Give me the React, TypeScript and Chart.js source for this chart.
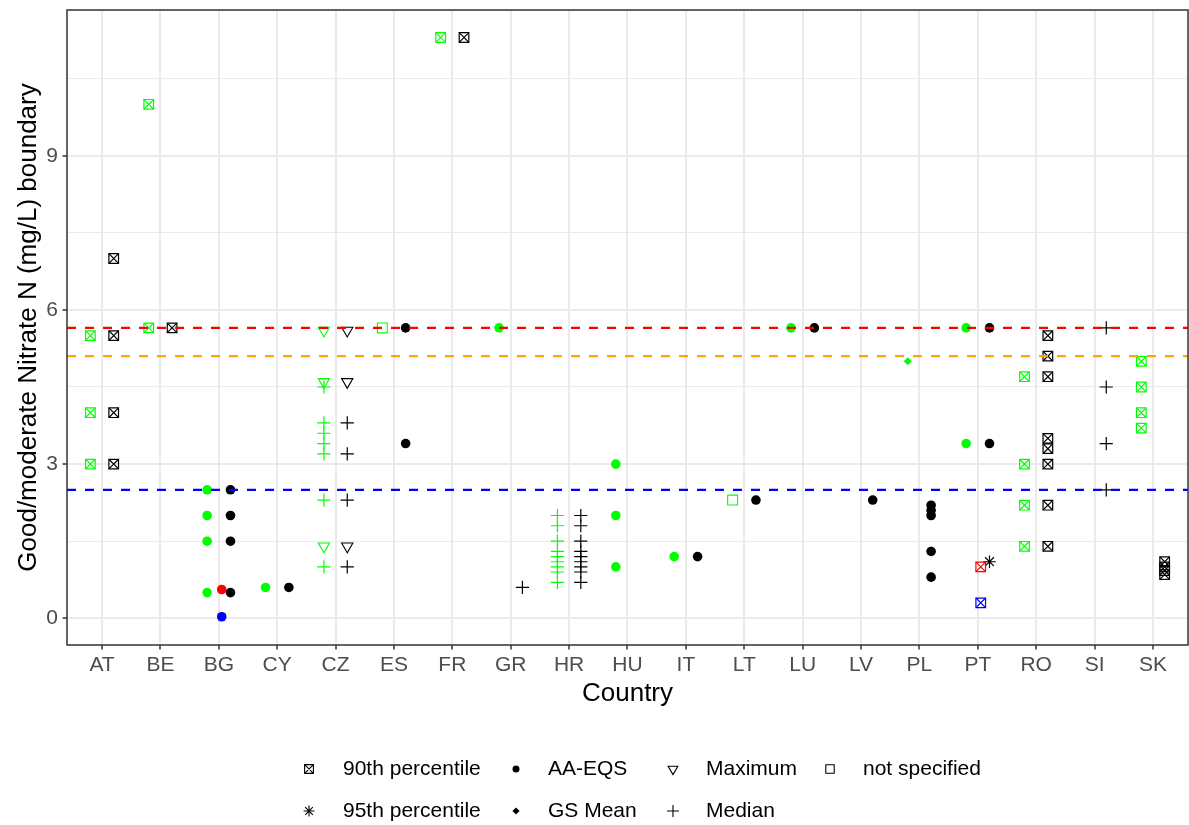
import { useEffect, useRef } from 'react';
import { Chart, registerables } from 'chart.js';

Chart.register(...registerables);

type Row = [string, number];

const COUNTRIES = ['AT', 'BE', 'BG', 'CY', 'CZ', 'ES', 'FR', 'GR', 'HR', 'HU', 'IT', 'LT', 'LU', 'LV', 'PL', 'PT', 'RO', 'SI', 'SK'];

const Y_TICKS = [0, 1.5, 3, 4.5, 6, 7.5, 9, 10.5];
const Y_MIN = -0.52;
const Y_MAX = 11.835;

// Reference boundaries drawn as dashed horizontal lines
const REF_VALUES = [5.65, 5.1, 2.5];
const REF_COLORS = ['#FF0000', '#FFA500', '#0000FF'];

// 90th percentile
const P90_GREEN: Row[] = [['AT', 5.5], ['AT', 4], ['AT', 3], ['BE', 10], ['BE', 5.65], ['FR', 11.3], ['RO', 4.7], ['RO', 3], ['RO', 2.2], ['RO', 1.4], ['SK', 5], ['SK', 4.5], ['SK', 4], ['SK', 3.7]];
const P90_BLACK: Row[] = [['AT', 7], ['AT', 5.5], ['AT', 4], ['AT', 3], ['BE', 5.65], ['FR', 11.3], ['RO', 5.5], ['RO', 5.1], ['RO', 4.7], ['RO', 3.5], ['RO', 3.3], ['RO', 3], ['RO', 2.2], ['RO', 1.4], ['SK', 1.1], ['SK', 1.0], ['SK', 0.93], ['SK', 0.85]];
const P90_RED: Row[] = [['PT', 1.0]];
const P90_BLUE: Row[] = [['PT', 0.3]];
// AA-EQS
const AAEQS_GREEN: Row[] = [['BG', 2.5], ['BG', 2], ['BG', 1.5], ['BG', 0.5], ['CY', 0.6], ['GR', 5.65], ['HU', 3], ['HU', 2], ['HU', 1], ['IT', 1.2], ['LU', 5.65], ['PT', 5.65], ['PT', 3.4]];
const AAEQS_BLACK: Row[] = [['BG', 2.5], ['BG', 2], ['BG', 1.5], ['BG', 0.5], ['CY', 0.6], ['ES', 5.65], ['ES', 3.4], ['IT', 1.2], ['LT', 2.3], ['LU', 5.65], ['LV', 2.3], ['PL', 2.2], ['PL', 2.1], ['PL', 2.0], ['PL', 1.3], ['PL', 0.8], ['PT', 5.65], ['PT', 3.4]];
const AAEQS_RED: Row[] = [['BG', 0.56]];
const AAEQS_BLUE: Row[] = [['BG', 0.03]];
// Maximum
const MAX_GREEN: Row[] = [['CZ', 5.6], ['CZ', 4.6], ['CZ', 1.4]];
const MAX_BLACK: Row[] = [['CZ', 5.6], ['CZ', 4.6], ['CZ', 1.4]];
// not specified
const NS_GREEN: Row[] = [['ES', 5.65], ['LT', 2.3]];
// 95th percentile
const P95_BLACK: Row[] = [['PT', 1.1]];
// GS Mean
const GSMEAN_GREEN: Row[] = [['PL', 5.0]];
// Median
const MEDIAN_GREEN: Row[] = [['CZ', 4.5], ['CZ', 3.8], ['CZ', 3.6], ['CZ', 3.4], ['CZ', 3.2], ['CZ', 2.3], ['CZ', 1.0], ['HR', 2.0], ['HR', 1.8], ['HR', 1.5], ['HR', 1.3], ['HR', 1.2], ['HR', 1.1], ['HR', 1.0], ['HR', 0.9], ['HR', 0.7]];
const MEDIAN_BLACK: Row[] = [['CZ', 3.8], ['CZ', 3.2], ['CZ', 2.3], ['CZ', 1.0], ['GR', 0.6], ['HR', 2.0], ['HR', 1.8], ['HR', 1.5], ['HR', 1.3], ['HR', 1.2], ['HR', 1.1], ['HR', 1.0], ['HR', 0.9], ['HR', 0.7], ['SI', 5.65], ['SI', 4.5], ['SI', 3.4], ['SI', 2.5]];

const LEGEND_ROW1 = ['90th percentile', 'AA-EQS', 'Maximum', 'not specified'];
const LEGEND_ROW2 = ['95th percentile', 'GS Mean', 'Median'];

type Group = 'green' | 'black' | 'red' | 'blue';
const GROUP_COLOR: Record<Group, string> = { green: '#00FF00', black: '#000000', red: '#FF0000', blue: '#0000FF' };
// horizontal dodge of each colour group inside a country slot
const GROUP_SHIFT: Record<Group, number> = { green: -0.2, black: 0.2, red: 0.05, blue: 0.05 };

type Shape = 'p90' | 'aaeqs' | 'max' | 'ns' | 'p95' | 'gs' | 'median';

interface MarkStyle { pointStyle: any; radius: number; width: number; filled: boolean; rotation?: number }

const SHAPE_STYLES: Record<Shape, MarkStyle[]> = {
  p90: [
    { pointStyle: 'rect', radius: 6.8, width: 1.2, filled: false },
    { pointStyle: 'crossRot', radius: 6.8, width: 1.2, filled: false },
  ],
  aaeqs: [{ pointStyle: 'circle', radius: 4.8, width: 0, filled: true }],
  max: [{ pointStyle: 'triangle', radius: 6.5, width: 1.1, filled: false, rotation: 180 }],
  ns: [{ pointStyle: 'rect', radius: 7, width: 1.1, filled: false }],
  p95: [{ pointStyle: 'star', radius: 6.3, width: 1.2, filled: false }],
  gs: [{ pointStyle: 'rectRot', radius: 4, width: 0, filled: true }],
  median: [{ pointStyle: 'cross', radius: 6.6, width: 1.2, filled: false }],
};

const SERIES: { shape: Shape; group: Group; rows: Row[] }[] = [
  { shape: 'p90', group: 'green', rows: P90_GREEN },
  { shape: 'p90', group: 'black', rows: P90_BLACK },
  { shape: 'p90', group: 'red', rows: P90_RED },
  { shape: 'p90', group: 'blue', rows: P90_BLUE },
  { shape: 'aaeqs', group: 'green', rows: AAEQS_GREEN },
  { shape: 'aaeqs', group: 'black', rows: AAEQS_BLACK },
  { shape: 'aaeqs', group: 'red', rows: AAEQS_RED },
  { shape: 'aaeqs', group: 'blue', rows: AAEQS_BLUE },
  { shape: 'max', group: 'green', rows: MAX_GREEN },
  { shape: 'max', group: 'black', rows: MAX_BLACK },
  { shape: 'ns', group: 'green', rows: NS_GREEN },
  { shape: 'p95', group: 'black', rows: P95_BLACK },
  { shape: 'gs', group: 'green', rows: GSMEAN_GREEN },
  { shape: 'median', group: 'green', rows: MEDIAN_GREEN },
  { shape: 'median', group: 'black', rows: MEDIAN_BLACK },
];

const FONT = "'Liberation Sans', Arial, Helvetica, sans-serif";

// plot panel edges in canvas pixels
const PANEL = { left: 67, right: 1188, top: 10, bottom: 645 };

function toPoints(rows: Row[], group: Group) {
  return rows.map(([c, v]) => ({ x: COUNTRIES.indexOf(c) + GROUP_SHIFT[group], y: v }));
}

function buildDatasets() {
  const sets: any[] = [];
  // dashed boundaries go first so they are painted above the points
  REF_VALUES.forEach((v, i) => {
    sets.push({
      type: 'scatter',
      data: [{ x: -0.6, y: v }, { x: COUNTRIES.length - 0.4, y: v }],
      showLine: true,
      borderColor: REF_COLORS[i],
      borderWidth: 2.2,
      borderDash: [9, 9],
      pointRadius: 0,
      pointHoverRadius: 0,
    });
  });
  SERIES.forEach((s) => {
    const color = GROUP_COLOR[s.group];
    SHAPE_STYLES[s.shape].forEach((st) => {
      sets.push({
        type: 'scatter',
        data: toPoints(s.rows, s.group),
        showLine: false,
        pointStyle: st.pointStyle,
        pointRadius: st.radius,
        pointHoverRadius: st.radius,
        pointBorderWidth: st.width,
        pointHoverBorderWidth: st.width,
        pointRotation: st.rotation ?? 0,
        pointBorderColor: color,
        pointBackgroundColor: st.filled ? color : 'rgba(0,0,0,0)',
        borderColor: color,
        backgroundColor: st.filled ? color : 'rgba(0,0,0,0)',
      });
    });
  });
  return sets;
}

function drawLegendSymbol(ctx: CanvasRenderingContext2D, kind: Shape, x: number, y: number) {
  ctx.save();
  ctx.strokeStyle = '#000';
  ctx.fillStyle = '#000';
  ctx.lineWidth = 1.1;
  ctx.beginPath();
  switch (kind) {
    case 'p90': {
      const h = 4.4;
      ctx.rect(x - h, y - h, 2 * h, 2 * h);
      ctx.moveTo(x - h, y - h); ctx.lineTo(x + h, y + h);
      ctx.moveTo(x + h, y - h); ctx.lineTo(x - h, y + h);
      ctx.stroke();
      break;
    }
    case 'aaeqs':
      ctx.arc(x, y, 3.5, 0, Math.PI * 2);
      ctx.fill();
      break;
    case 'max': {
      const r = 5.6;
      ctx.moveTo(x, y + r);
      ctx.lineTo(x - r * 0.866, y - r / 2);
      ctx.lineTo(x + r * 0.866, y - r / 2);
      ctx.closePath();
      ctx.stroke();
      break;
    }
    case 'ns':
      ctx.rect(x - 4.2, y - 4.2, 8.4, 8.4);
      ctx.stroke();
      break;
    case 'p95': {
      const r = 5.4;
      const d = r * Math.SQRT1_2;
      ctx.moveTo(x - r, y); ctx.lineTo(x + r, y);
      ctx.moveTo(x, y - r); ctx.lineTo(x, y + r);
      ctx.moveTo(x - d, y - d); ctx.lineTo(x + d, y + d);
      ctx.moveTo(x + d, y - d); ctx.lineTo(x - d, y + d);
      ctx.stroke();
      break;
    }
    case 'gs': {
      const r = 3.6;
      ctx.moveTo(x, y - r); ctx.lineTo(x + r, y); ctx.lineTo(x, y + r); ctx.lineTo(x - r, y);
      ctx.closePath();
      ctx.fill();
      break;
    }
    case 'median': {
      const r = 6;
      ctx.moveTo(x - r, y); ctx.lineTo(x + r, y);
      ctx.moveTo(x, y - r); ctx.lineTo(x, y + r);
      ctx.stroke();
      break;
    }
  }
  ctx.restore();
}

const panelAndLegend = {
  id: 'panelAndLegend',
  afterDatasetsDraw(chart: any) {
    const { ctx, chartArea: a } = chart;
    ctx.save();
    ctx.strokeStyle = '#333333';
    ctx.lineWidth = 1.5;
    ctx.strokeRect(a.left, a.top, a.right - a.left, a.bottom - a.top);
    ctx.restore();
  },
  afterDraw(chart: any) {
    const ctx: CanvasRenderingContext2D = chart.ctx;
    const symX = [309, 516, 673, 830];
    const textX = [343, 548, 706, 863];
    const rowY = [769, 811];
    const rows: { kinds: Shape[]; labels: string[] }[] = [
      { kinds: ['p90', 'aaeqs', 'max', 'ns'], labels: LEGEND_ROW1 },
      { kinds: ['p95', 'gs', 'median'], labels: LEGEND_ROW2 },
    ];
    ctx.save();
    ctx.font = `21px ${FONT}`;
    ctx.textAlign = 'left';
    ctx.textBaseline = 'middle';
    rows.forEach((row, r) => {
      row.labels.forEach((label, i) => {
        drawLegendSymbol(ctx, row.kinds[i], symX[i], rowY[r]);
        ctx.fillStyle = '#000';
        ctx.fillText(label, textX[i], rowY[r]);
      });
    });
    ctx.restore();
  },
};

const isMajor = (v: number) => Math.abs(v % 3) < 1e-9;

export default function App() {
  const ref = useRef<HTMLCanvasElement>(null);

  useEffect(() => {
    if (!ref.current) return;
    Chart.defaults.font.family = FONT;
    const chart = new Chart(ref.current, {
      type: 'scatter',
      data: { datasets: buildDatasets() },
      options: {
        responsive: false,
        animation: false,
        devicePixelRatio: 1,
        events: [],
        layout: { autoPadding: false, padding: { top: PANEL.top, right: 1189 - PANEL.right, bottom: 0, left: 0 } },
        plugins: { legend: { display: false }, tooltip: { enabled: false } },
        scales: {
          x: {
            type: 'linear',
            min: -0.6,
            max: COUNTRIES.length - 0.4,
            afterBuildTicks: (s: any) => { s.ticks = COUNTRIES.map((_, i) => ({ value: i })); },
            afterFit: (s: any) => { s.height = 825 - PANEL.bottom; s.paddingLeft = 0; s.paddingRight = 0; },
            ticks: {
              autoSkip: false,
              maxRotation: 0,
              color: '#4D4D4D',
              font: { size: 21 },
              padding: 3,
              callback: (v: any) => COUNTRIES[Math.round(Number(v))] ?? '',
            },
            grid: { color: '#EBEBEB', lineWidth: 2, tickLength: 4.5, tickColor: '#333333', tickWidth: 1.5 },
            border: { display: false },
            title: { display: true, text: 'Country', color: '#000', font: { size: 26 }, padding: { top: 0, bottom: 116 } },
          },
          y: {
            type: 'linear',
            min: Y_MIN,
            max: Y_MAX,
            afterBuildTicks: (s: any) => { s.ticks = Y_TICKS.map((v) => ({ value: v })); },
            afterFit: (s: any) => { s.width = PANEL.left; s.paddingTop = 0; s.paddingBottom = 0; },
            ticks: {
              autoSkip: false,
              color: '#4D4D4D',
              font: { size: 21 },
              padding: 4.5,
              callback: (v: any) => (isMajor(Number(v)) ? String(v) : ''),
            },
            grid: {
              color: '#EBEBEB',
              lineWidth: (c: any) => (c.tick && isMajor(c.tick.value) ? 2 : 1),
              tickLength: 4.5,
              tickWidth: 1.5,
              tickColor: (c: any) => (c.tick && isMajor(c.tick.value) ? '#333333' : 'rgba(0,0,0,0)'),
            },
            border: { display: false },
            title: {
              display: true,
              text: 'Good/moderate Nitrate N (mg/L) boundary',
              color: '#000',
              font: { size: 26 },
              padding: { top: 13, bottom: 0 },
            },
          },
        },
      } as any,
      plugins: [panelAndLegend],
    });

    return () => chart.destroy();
  }, []);

  return (
    <div style={{ position: 'absolute', left: 0, top: 0, width: 1189, height: 825, background: '#ffffff' }}>
      <canvas ref={ref} width={1189} height={825} style={{ display: 'block', width: 1189, height: 825 }} />
    </div>
  );
}
